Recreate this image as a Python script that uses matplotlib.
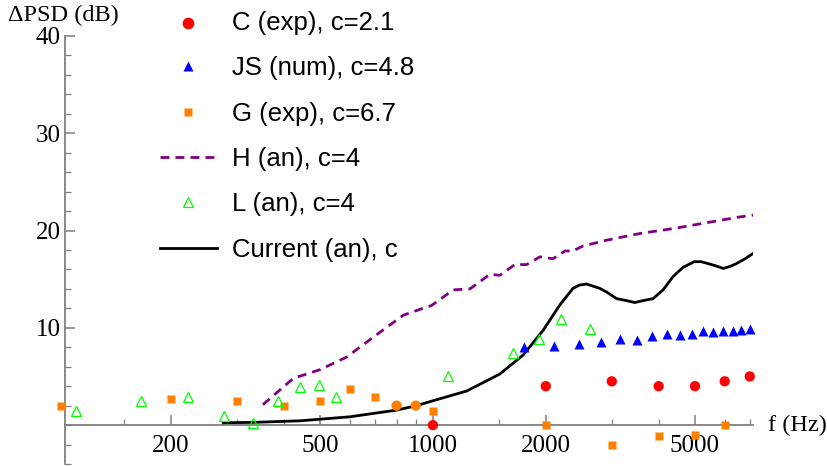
import matplotlib
matplotlib.use("Agg")
import matplotlib.pyplot as plt
from matplotlib.ticker import FixedLocator, NullFormatter

# C (exp), c=2.1
c_f = [800, 900, 1000, 2000, 3000, 4000, 5000, 6000, 7000]
c_db = [2.0, 2.0, 0.0, 4.0, 4.5, 4.0, 4.0, 4.5, 5.0]
c_col = ["#FF7F00", "#FF7F00", "red", "red", "red", "red", "red", "red", "red"]

# JS (num), c=4.8
js_f = [1750, 2100, 2450, 2800, 3150, 3500, 3850, 4200, 4550, 4900,
        5250, 5600, 5950, 6300, 6650, 7000]
js_db = [8.0, 8.1, 8.3, 8.5, 8.9, 8.75, 9.2, 9.4, 9.3, 9.4,
         9.7, 9.6, 9.7, 9.7, 9.8, 9.9]

# G (exp), c=6.7
g_f = [102, 200, 300, 400, 500, 600, 700, 1000, 2000, 3000, 4000, 5000, 6000]
g_db = [2.0, 2.7, 2.5, 2.0, 2.5, 3.7, 2.9, 1.5, 0.0, -2.0, -1.1, -1.0, 0.0]

# H (an), c=4
h_f = [352, 424, 500, 589, 708, 834, 924, 992, 1133, 1255, 1419, 1508,
       1654, 1778, 1930, 2090, 2250, 2360, 2510, 2900, 3570, 4370, 5360,
       6580, 7200]
h_db = [2.1, 4.8, 5.7, 7.0, 9.3, 11.3, 11.9, 12.3, 13.9, 14.0, 15.5, 15.4,
        16.5, 16.5, 17.3, 17.1, 17.9, 17.9, 18.4, 19.0, 19.7, 20.2, 20.8,
        21.4, 21.6]

# L (an), c=4
l_f = [112, 166, 222, 277, 332, 386, 442, 497, 552, 1100, 1640, 1920, 2190, 2620]
l_db = [1.4, 2.5, 2.9, 0.9, 0.2, 2.5, 3.9, 4.1, 2.9, 5.0, 7.4, 8.9, 10.9, 9.9]

# Current (an), c
cur_f = [276, 332, 442, 600, 800, 905, 1000, 1230, 1508, 1740, 1970, 2180,
         2364, 2462, 2567, 2785, 2900, 3090, 3280, 3455, 3640, 3865, 4110,
         4370, 4640, 4980, 5190, 5420, 5650, 5950, 6190, 6450, 6800, 7180]
cur_db = [0.24, 0.28, 0.44, 0.85, 1.54, 2.0, 2.5, 3.5, 5.25, 7.2, 9.77, 12.35,
          14.06, 14.4, 14.5, 14.06, 13.7, 13.0, 12.8, 12.6, 12.8, 13.0, 13.9,
          15.26, 16.2, 16.8, 16.8, 16.6, 16.4, 16.1, 16.3, 16.6, 17.1, 17.7]

major_ticks = [200, 500, 1000, 2000, 5000]
minor_ticks = [100, 150, 300, 400, 600, 700, 800, 900, 1500, 3000, 4000, 6000, 7000]

fig = plt.figure(figsize=(8.27, 4.66), dpi=100)
ax = fig.add_axes([65 / 827, 2 / 466, (753 - 65) / 827, (464 - 36) / 466])
ax.set_xscale("log")
ax.set_xlim(104.4, 7140)
ax.set_ylim(-4, 40)

ax.plot(h_f, h_db, color="#800080", lw=2.0, dashes=(3.2, 2.2), label="H (an), c=4", zorder=3)
ax.plot(cur_f, cur_db, color="black", lw=2.0, label="Current (an), c", zorder=3)
ax.plot(g_f, g_db, ls="none", marker="s", ms=5.8, color="#FF7F00", mec="none", zorder=4,
        label="G (exp), c=6.7", clip_on=False)
ax.scatter(c_f, c_db, s=55, c=c_col, marker="o", edgecolors="none", zorder=5,
           label="C (exp), c=2.1", clip_on=False)
ax.plot(js_f, js_db, ls="none", marker="^", ms=6.5, color="blue", mec="none", zorder=4,
        label="JS (num), c=4.8", clip_on=False)
ax.plot(l_f, l_db, ls="none", marker="^", ms=6.5, mfc="none", mec="#00FF00", mew=0.9,
        zorder=4, label="L (an), c=4", clip_on=False)

for s in ["top", "right"]:
    ax.spines[s].set_visible(False)
ax.spines["bottom"].set_position(("data", 0))
for s in ["left", "bottom"]:
    ax.spines[s].set_color("#7f7f7f")
    ax.spines[s].set_linewidth(1.3)

ax.xaxis.set_major_locator(FixedLocator(major_ticks))
ax.xaxis.set_minor_locator(FixedLocator(minor_ticks))
ax.xaxis.set_minor_formatter(NullFormatter())
ax.set_xticklabels([str(t) for t in major_ticks])
ax.set_yticks([10, 20, 30, 40])
ax.set_yticks(range(-4, 41, 2), minor=True)
ax.tick_params(axis="both", which="both", direction="in", colors="#7f7f7f",
               labelcolor="black", labelsize=18)
ax.tick_params(axis="both", which="major", length=7, width=1.1)
ax.tick_params(axis="both", which="minor", length=4, width=0.9)
ax.tick_params(axis="x", which="major", pad=7)
ax.tick_params(axis="y", which="major", pad=3)
for lab in ax.get_xticklabels() + ax.get_yticklabels():
    lab.set_family("Liberation Serif")

fig.text(8 / 827, 1 - 15 / 466, "ΔPSD (dB)", family="Liberation Serif", fontsize=17.5,
         va="center", ha="left")
fig.text(768 / 827, 1 - 425 / 466, "f (Hz)", family="Liberation Serif", fontsize=17.5,
         va="center", ha="left")

handles, labels = ax.get_legend_handles_labels()
order = ["C (exp), c=2.1", "JS (num), c=4.8", "G (exp), c=6.7", "H (an), c=4",
         "L (an), c=4", "Current (an), c"]
hmap = dict(zip(labels, handles))
leg = fig.legend([hmap[k] for k in order], order, loc="upper left",
                 bbox_to_anchor=(160 / 827, 1 - 11 / 466), frameon=False,
                 prop={"family": "Liberation Sans", "size": 18.5},
                 handlelength=2.2, handletextpad=0.6, labelspacing=0.83,
                 borderpad=0, borderaxespad=0, scatterpoints=1)
leg.legend_handles[0].set_color("red")

fig.savefig("out.png", dpi=100)
